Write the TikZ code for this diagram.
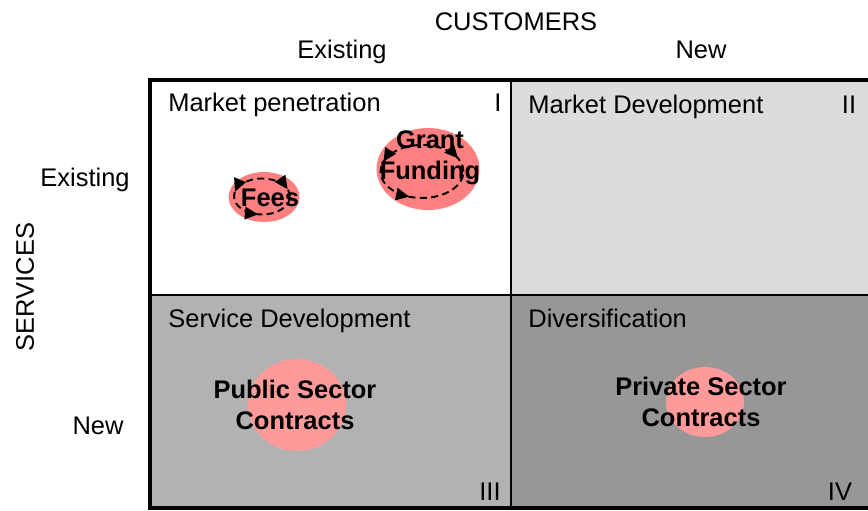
\documentclass[tikz,border=0pt]{standalone}
\usepackage{fontspec}
\setmainfont{Liberation Sans}
\usetikzlibrary{positioning, arrows.meta, shapes.geometric}
\definecolor{quadII}{HTML}{DCDCDC}
\definecolor{quadIII}{HTML}{B2B2B2}
\definecolor{quadIV}{HTML}{979797}
\definecolor{blobA}{HTML}{FF8080}
\definecolor{blobB}{HTML}{FF9A9A}
\tikzset{
  quad/.style    = {draw, line width=1.1pt, inner sep=0pt, outer sep=0pt, anchor=north west, minimum width=7.22cm, minimum height=4.3cm},
  frame/.style   = {line width=2.3pt},
  axis/.style    = {anchor=base, font=\fontsize{14.5}{17.5}\selectfont},
  heading/.style = {anchor=base west, inner sep=0pt, font=\fontsize{14.5}{17.5}\selectfont},
  numeral/.style = {anchor=base, inner sep=0pt, font=\fontsize{14.5}{17.5}\selectfont},
  blob/.style    = {ellipse, inner sep=0pt},
  stream/.style  = {align=center, inner sep=0pt, font=\bfseries\fontsize{14.5}{17.5}\selectfont},
  cycle/.style   = {dash pattern=on 4pt off 2.5pt, line width=1.1pt},
  tip/.style     = {line width=1.1pt, -{Triangle[length=7.5pt, width=7pt]}}
}

\begin{document}
\begin{tikzpicture}[x=0.02cm, y=0.02cm]
  \useasboundingbox (0,0) rectangle (868,510);

  % the four quadrants
  \node[quad, fill=white] (q1) at (150,430) {};
  \node[quad, fill=quadII, right=0pt of q1, minimum width=7.5cm] (q2) {};
  \node[quad, fill=quadIII, below=0pt of q1, minimum height=4.26cm] (q3) {};
  \node[quad, fill=quadIV, right=0pt of q3, minimum width=7.5cm, minimum height=4.26cm] (q4) {};
  \draw[frame] (q1.north west) rectangle (q4.south east);

  % axes
  \node[axis] (cust) at (516,479) {CUSTOMERS};
  \node[axis] (cold) at (342,451) {Existing};
  \node[axis] (cnew) at (701,451) {New};
  \node[axis] (sold) at (85,323) {Existing};
  \node[axis] (snew) at (98,75) {New};
  \node[axis, anchor=center, rotate=90] (serv) at (25,223) {SERVICES};

  % quadrant titles
  \node[heading] (h1) at (168,398) {Market penetration};
  \node[heading] (h2) at (528,396) {Market Development};
  \node[heading] (h3) at (168,182) {Service Development};
  \node[heading] (h4) at (528,182) {Diversification};
  \node[numeral] (n1) at (498,398) {I};
  \node[numeral] (n2) at (849,396) {II};
  \node[numeral] (n3) at (490,10) {III};
  \node[numeral] (n4) at (840,10) {IV};

  % income streams
  \node[blob, fill=blobA, minimum width=1.42cm, minimum height=1.0cm] (fees) at (264,313) {};
  \node[blob, fill=blobA, minimum width=2.06cm, minimum height=1.64cm] (grant) at (428,341) {};
  \node[blob, fill=blobB, minimum width=1.96cm, minimum height=1.84cm] (public) at (297,105) {};
  \node[blob, fill=blobB, minimum width=1.56cm, minimum height=1.4cm] (private) at (705,108) {};

  % repeat cycles
  \draw[cycle] (262,313.5) ellipse [x radius=28, y radius=18];
  \draw[tip] (262,313.5) ++(150:28 and 18) arc [start angle=150, end angle=165, x radius=28, y radius=18];
  \draw[tip] (262,313.5) ++(42:28 and 18) arc [start angle=42, end angle=24, x radius=28, y radius=18];
  \draw[tip] (262,313.5) ++(245:28 and 18) arc [start angle=245, end angle=262, x radius=28, y radius=18];
  \draw[cycle] (422,338.5) ellipse [x radius=41.5, y radius=26.5];
  \draw[tip] (422,338.5) ++(145:41.5 and 26.5) arc [start angle=145, end angle=158, x radius=41.5, y radius=26.5];
  \draw[tip] (422,338.5) ++(46:41.5 and 26.5) arc [start angle=46, end angle=30, x radius=41.5, y radius=26.5];
  \draw[tip] (422,338.5) ++(238:41.5 and 26.5) arc [start angle=238, end angle=252, x radius=41.5, y radius=26.5];

  \node[stream] (tfees) at (270,312) {Fees};
  \node[stream] (tgrant) at (430,352) {Grant\\Funding};
  \node[stream] (tpublic) at (295,105) {Public Sector\\Contracts};
  \node[stream] (tprivate) at (701,108) {Private Sector\\Contracts};
\end{tikzpicture}
\end{document}
